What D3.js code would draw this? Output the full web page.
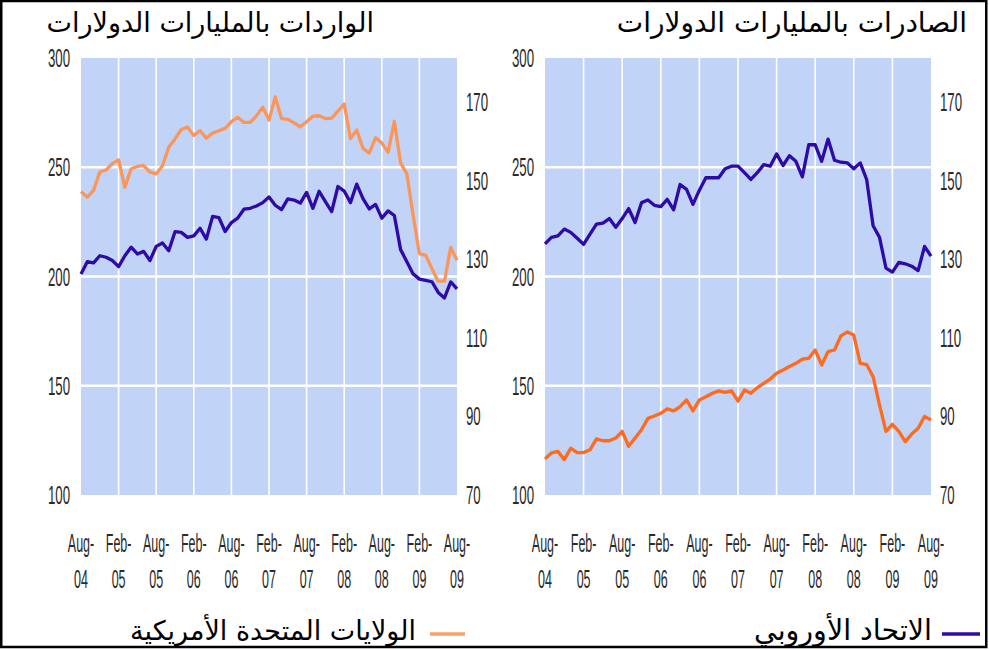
<!DOCTYPE html>
<html><head><meta charset="utf-8">
<script src="https://cdn.jsdelivr.net/npm/d3@7/dist/d3.min.js"></script>
<style>body{margin:0;background:#fff;}svg{display:block;}</style>
</head><body>
<svg id="chart" width="989" height="650"></svg>
<script>
// ---- Data (monthly, Aug-04 .. Aug-09) ----
const tickTop = ["Aug-","Feb-","Aug-","Feb-","Aug-","Feb-","Aug-","Feb-","Aug-","Feb-","Aug-"];
const tickBottom = ["04","05","05","06","06","07","07","08","08","09","09"];
const leftTicks = [100,150,200,250,300];
const rightTicks = [70,90,110,130,150,170];
const gridValues = [150,200,250];

const importsTitle = "الواردات بالمليارات الدولارات";
const exportsTitle = "الصادرات بالمليارات الدولارات";
const usLabel = "الولايات المتحدة الأمريكية";
const euLabel = "الاتحاد الأوروبي";

// EU imports (left axis)
const importsEU = [201.2,206.8,206.2,209.5,208.8,207.3,204.5,209.5,213.4,210.3,
  211.5,207.3,213.8,215.3,211.8,220.5,220.2,217.9,218.6,222.1,
  217.1,227.5,227.0,220.6,224.7,226.7,230.8,231.2,232.3,233.8,
  236.4,232.6,230.6,235.5,235.0,233.6,238.5,231.2,239.0,234.3,
  229.7,241.2,239.1,233.8,242.3,235.6,230.9,233.0,226.7,230.0,
  227.9,212.3,206.8,201.2,198.8,198.2,197.6,192.7,190.2,197.5,194.3];
// US imports (right axis)
const importsUS = [147.2,145.8,147.5,152.2,152.7,154.3,155.3,148.3,153.0,153.6,
  153.8,152.2,151.7,153.8,158.5,160.6,163.0,163.6,161.5,162.7,
  160.8,162.1,162.7,163.3,165.0,166.1,164.8,164.8,166.5,168.7,
  165.4,171.3,165.8,165.6,164.7,163.7,165.0,166.4,166.5,165.8,
  165.9,167.7,169.5,160.7,162.9,158.2,157.0,160.9,159.6,157.2,
  165.1,154.5,151.7,141.1,131.4,131.0,127.6,124.4,124.4,133.0,129.7];
// EU exports (left axis)
const exportsEU = [214.9,217.9,218.6,221.7,220.2,217.5,214.7,219.4,224.0,224.4,
  226.5,222.5,226.5,231.1,224.7,233.8,235.0,232.6,232.0,235.3,
  230.5,242.1,239.9,233.0,239.5,245.2,245.2,245.2,249.3,250.5,
  250.5,247.5,244.4,247.5,251.2,250.5,256.1,250.8,255.3,252.7,
  245.6,260.3,260.3,252.7,262.9,253.2,252.3,252.0,249.3,252.0,
  244.4,223.2,217.9,203.8,202.0,206.5,205.8,204.7,202.7,213.8,209.3];
// US exports (right axis)
const exportsUS = [79.2,80.7,81.1,79.0,81.9,80.8,80.8,81.5,84.3,83.8,
  83.8,84.5,86.2,82.4,84.5,86.6,89.5,90.1,90.8,91.9,
  91.4,92.5,94.2,91.4,94.2,95.0,95.9,96.5,96.1,96.5,
  93.9,96.7,95.9,97.3,98.4,99.5,101.0,101.8,102.7,103.5,
  104.6,104.8,106.9,103.1,106.5,106.9,110.5,111.5,110.7,103.5,
  103.2,100.1,92.9,86.2,88.0,86.2,83.6,85.5,87.0,90.0,89.1];

// ---- Styles ----
const BG = "#c1d3f6";
const EU_COLOR = "#2e0aa6";
const US_LIGHT = "#fa965a";
const US_STRONG = "#ff6a1c";
const LABEL_FONT = "'Liberation Sans', Arial, sans-serif";
const AR_FONT = "'DejaVu Sans', 'Noto Sans', sans-serif";

const svg = d3.select("#chart");

// Frame
svg.append("rect").attr("x",1.25).attr("y",1).attr("width",985).attr("height",646)
  .attr("fill","#fff").attr("stroke","#000").attr("stroke-width",2.5);

const TOP = 58, BOTTOM = 495;

function panel(cfg){
  const g = svg.append("g");
  const n = cfg.eu.length;
  const x = d3.scaleLinear().domain([0, n-1]).range([cfg.x0, cfg.x1]);
  const yL = d3.scaleLinear().domain([100,300]).range([BOTTOM, TOP]);
  const yR = d3.scaleLinear().domain([70,181.2]).range([BOTTOM, TOP]);

  g.append("rect").attr("x",cfg.x0).attr("y",TOP).attr("width",cfg.x1-cfg.x0).attr("height",BOTTOM-TOP).attr("fill",BG);

  // vertical gridlines every 6 months
  const tickIdx = tickTop.map((d,i)=>i*6);
  g.selectAll(".vg").data(tickIdx.slice(1,-1)).join("line")
    .attr("x1",d=>x(d)).attr("x2",d=>x(d)).attr("y1",TOP).attr("y2",BOTTOM)
    .attr("stroke","#fff").attr("stroke-width",1.6);
  g.selectAll(".hg").data(gridValues).join("line")
    .attr("x1",cfg.x0).attr("x2",cfg.x1).attr("y1",d=>yL(d)).attr("y2",d=>yL(d))
    .attr("stroke","#fff").attr("stroke-width",2.6);

  // lines
  const lineL = d3.line().x((d,i)=>x(i)).y(d=>yL(d));
  const lineR = d3.line().x((d,i)=>x(i)).y(d=>yR(d));
  g.append("path").datum(cfg.us).attr("d",lineR).attr("fill","none")
    .attr("stroke",cfg.usColor).attr("stroke-width",3.3).attr("stroke-linejoin","round");
  g.append("path").datum(cfg.eu).attr("d",lineL).attr("fill","none")
    .attr("stroke",EU_COLOR).attr("stroke-width",3.3).attr("stroke-linejoin","round");

  // left axis labels
  const sy = 0.53, sxl = 0.5;
  g.selectAll(".yl").data(leftTicks).join("text")
    .attr("transform",d=>`translate(${cfg.x0-11},${yL(d)}) scale(${sy},1)`)
    .attr("text-anchor","end").attr("dy","0.36em")
    .attr("font-family",LABEL_FONT).attr("font-size",25).attr("fill","#2a2a2a")
    .text(d=>d);
  // right axis labels
  g.selectAll(".yr").data(rightTicks).join("text")
    .attr("transform",d=>`translate(${cfg.x1+9},${yR(d)}) scale(${sy},1)`)
    .attr("text-anchor","start").attr("dy","0.36em")
    .attr("font-family",LABEL_FONT).attr("font-size",25).attr("fill","#2a2a2a")
    .text(d=>d);
  // x labels
  tickIdx.forEach((t,i)=>{
    g.append("text").attr("transform",`translate(${x(t)},${552}) scale(${sxl},1)`)
      .attr("text-anchor","middle").attr("font-family",LABEL_FONT).attr("font-size",25).attr("fill","#2a2a2a")
      .text(tickTop[i]);
    g.append("text").attr("transform",`translate(${x(t)},${588}) scale(${sxl},1)`)
      .attr("text-anchor","middle").attr("font-family",LABEL_FONT).attr("font-size",25).attr("fill","#2a2a2a")
      .text(tickBottom[i]);
  });

  // title
  g.append("text").attr("x",cfg.titleX).attr("y",32).attr("text-anchor","end")
    .attr("font-family",AR_FONT).attr("font-size",cfg.titleSize).attr("fill","#000").text(cfg.title);
}

panel({x0:81, x1:457, eu:importsEU, us:importsUS, usColor:US_LIGHT, title:importsTitle, titleX:374, titleSize:27});
panel({x0:545, x1:931, eu:exportsEU, us:exportsUS, usColor:US_STRONG, title:exportsTitle, titleX:967, titleSize:28});

// legend
svg.append("line").attr("x1",430).attr("x2",465).attr("y1",634).attr("y2",634)
  .attr("stroke","#f9a165").attr("stroke-width",3.5);
svg.append("text").attr("x",416).attr("y",640).attr("text-anchor","end")
  .attr("font-family",AR_FONT).attr("font-size",27).attr("fill","#000").text(usLabel);
svg.append("line").attr("x1",942).attr("x2",980).attr("y1",634).attr("y2",634)
  .attr("stroke",EU_COLOR).attr("stroke-width",3.5);
svg.append("text").attr("x",932).attr("y",640).attr("text-anchor","end")
  .attr("font-family",AR_FONT).attr("font-size",28.5).attr("fill","#000").text(euLabel);
</script>
</body></html>
